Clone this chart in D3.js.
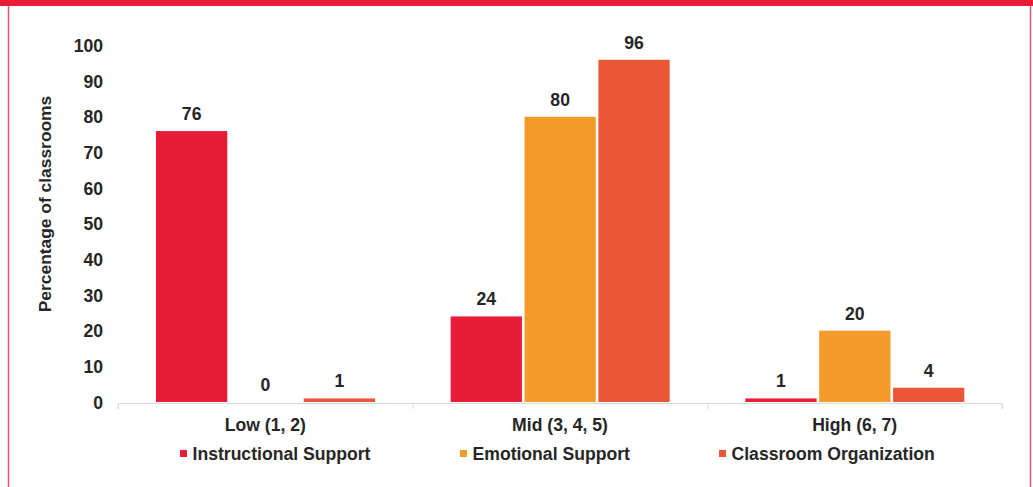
<!DOCTYPE html>
<html>
<head>
<meta charset="utf-8">
<script src="https://cdn.jsdelivr.net/npm/d3@7/dist/d3.min.js"></script>
<style>
  html, body { margin: 0; padding: 0; background: #fff; }
  svg { display: block; }
  text { font-family: "Liberation Sans", Arial, sans-serif; font-weight: bold; fill: #262626; }
</style>
</head>
<body>
<svg id="chart" width="1033" height="487"></svg>
<script>
const categories = ["Low (1, 2)", "Mid (3, 4, 5)", "High (6, 7)"];
const seriesNames = ["Instructional Support", "Emotional Support", "Classroom Organization"];
const instructional = [76, 24, 1];
const emotional = [0, 80, 20];
const classroom = [1, 96, 4];
const yTicks = [0, 10, 20, 30, 40, 50, 60, 70, 80, 90, 100];
const colors = ["#E81C36", "#F59B2A", "#EA5736"];

const seriesValues = [instructional, emotional, classroom];
const svg = d3.select("#chart");
const W = 1033, H = 487;
const FS = 17.6;

// frame
svg.append("rect").attr("x", 0).attr("y", 0).attr("width", W).attr("height", 6).attr("fill", "#E81C36");
svg.append("line").attr("x1", 8.5).attr("x2", 8.5).attr("y1", 6).attr("y2", H).attr("stroke", "#E8536A").attr("stroke-width", 1.5);
svg.append("line").attr("x1", 1030.5).attr("x2", 1030.5).attr("y1", 6).attr("y2", H).attr("stroke", "#E8536A").attr("stroke-width", 1.5);

const y = d3.scaleLinear().domain([0, 100]).range([402, 45.5]);
const x0 = d3.scaleBand().domain(categories).range([118, 1002]).padding(0);
const x1 = d3.scaleBand().domain(seriesNames).range([38, 257]).paddingInner(0.035);

// y tick labels
const yAxis = d3.axisLeft(y).tickValues(yTicks).tickSize(0).tickPadding(0);
const yg = svg.append("g").attr("transform", "translate(103,0)").call(yAxis);
yg.select(".domain").remove();
yg.selectAll("text").attr("font-size", FS).attr("font-family", "Liberation Sans, Arial, sans-serif").attr("font-weight", "bold").attr("fill", "#262626").attr("dy", "0.35em");

// y title
svg.append("text")
  .attr("transform", "translate(51,204) rotate(-90)")
  .attr("text-anchor", "middle")
  .attr("font-size", 17.4)
  .text("Percentage of classrooms");

// x axis
const xAxis = d3.axisBottom(x0).tickSize(0).tickPadding(0);
const xg = svg.append("g").attr("transform", "translate(0,403.5)").call(xAxis);
xg.select(".domain").attr("stroke", "#D9D9D9").attr("d", "M118,5V0H1002V5");
xg.selectAll(".tick line").remove();
xg.selectAll("text").attr("font-size", FS).attr("font-family", "Liberation Sans, Arial, sans-serif").attr("font-weight", "bold").attr("fill", "#262626").attr("dy", "27");
// boundary ticks
const bounds = categories.map(c => x0(c)).concat([x0(categories[categories.length - 1]) + x0.bandwidth()]);
svg.append("g").selectAll("line").data(bounds).join("line")
  .attr("x1", d => d + 0.5).attr("x2", d => d + 0.5)
  .attr("y1", 403.5).attr("y2", 409)
  .attr("stroke", "#D9D9D9");

// bars
const groups = svg.append("g").selectAll("g").data(categories).join("g")
  .attr("transform", c => `translate(${x0(c)},0)`);

groups.each(function(c, ci) {
  const g = d3.select(this);
  seriesNames.forEach((s, si) => {
    const v = seriesValues[si][ci];
    g.append("rect")
      .attr("x", x1(s))
      .attr("y", y(v))
      .attr("width", x1.bandwidth())
      .attr("height", y(0) - y(v))
      .attr("fill", colors[si]);
    g.append("text")
      .attr("x", x1(s) + x1.bandwidth() / 2)
      .attr("y", y(v) - 11)
      .attr("text-anchor", "middle")
      .attr("font-size", FS)
      .text(v);
  });
});

// legend
const legendX = [180, 460, 719];
const lg = svg.append("g").selectAll("g").data(seriesNames).join("g")
  .attr("transform", (d, i) => `translate(${legendX[i]},454)`);
lg.append("rect").attr("x", 0).attr("y", -4).attr("width", 7).attr("height", 7).attr("fill", (d, i) => colors[i]);
lg.append("text").attr("x", 12.5).attr("y", 0).attr("dy", "0.35em").attr("font-size", FS).text(d => d);
</script>
</body>
</html>
